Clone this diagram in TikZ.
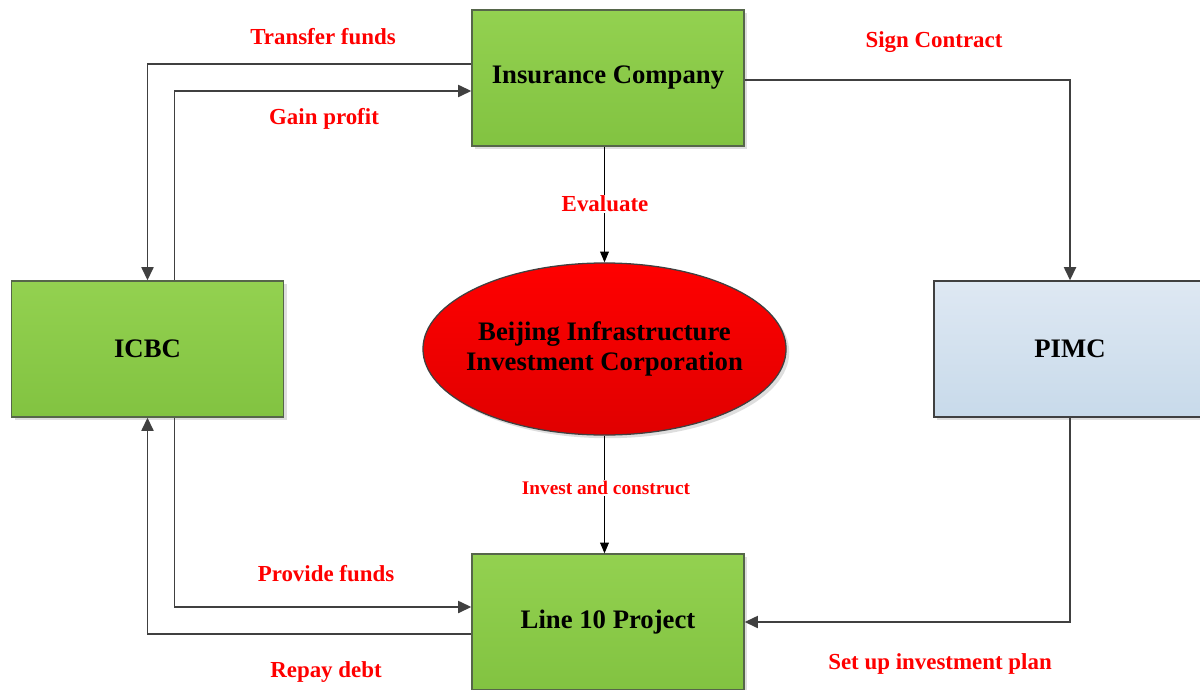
\documentclass[tikz,border=0pt]{standalone}
\usepackage{fontspec}
\setmainfont{Liberation Serif}
\usetikzlibrary{arrows.meta,shapes.geometric,shadows,calc}
\definecolor{green_top}{HTML}{93D150}
\definecolor{green_bot}{HTML}{82C341}
\definecolor{green_edge}{HTML}{56664A}
\definecolor{blue_top}{HTML}{DEE8F3}
\definecolor{blue_bot}{HTML}{C8DAEA}
\definecolor{red_bot}{HTML}{E00000}
\definecolor{flow_gray}{HTML}{404040}

\begin{document}
\begin{tikzpicture}[x=0.025cm,y=-0.025cm,
    boxshadow/.style={drop shadow={shadow xshift=0.08cm,shadow yshift=-0.08cm,fill=black!13,opacity=1}},
    greenbox/.style={draw=green_edge,line width=0.9pt,top color=green_top,bottom color=green_bot,
        minimum width=6.8cm,minimum height=3.4cm,font=\fontsize{19}{23}\selectfont\bfseries,boxshadow},
    bluebox/.style={greenbox,draw=flow_gray,top color=blue_top,bottom color=blue_bot},
    redoval/.style={ellipse,draw=flow_gray,line width=0.9pt,top color=red,bottom color=red_bot,
        inner xsep=-8pt,inner ysep=0pt,minimum width=9.075cm,minimum height=4.3cm,align=center,
        font=\fontsize{19}{21.5}\selectfont\bfseries,boxshadow},
    flow/.style={draw=flow_gray,line width=1.4pt,-{Triangle[length=0.33cm,width=0.3cm]}},
    thinflow/.style={draw=black,line width=0.8pt,-{Triangle[length=0.27cm,width=0.22cm]}},
    lbl/.style={text=red,font=\fontsize{16.3}{19}\selectfont\bfseries},
    smalllbl/.style={text=red,font=\fontsize{13.7}{16}\selectfont\bfseries}]
        \useasboundingbox (0,0) rectangle (1200,689);
        \clip (0,0) rectangle (1200,689);
        % Boxes
        \node[greenbox] (ins) at (608,78) {Insurance Company};
        \node[greenbox] (icbc) at (147.5,349) {ICBC};
        \node[bluebox] (pimc) at (1070,349) {PIMC};
        \node[greenbox] (l10) at (608,622) {Line 10 Project};
        \node[redoval] (bic) at (604.5,349) {Beijing Infrastructure\\Investment Corporation};
        % Connectors
        \draw[flow] ($(ins.west)+(0,-14)$) -| (icbc.north);
        \draw[flow] ($(icbc.north)+(27,0)$) |- ($(ins.west)+(0,13)$);
        \draw[flow] ($(ins.east)+(0,2)$) -| (pimc.north);
        \draw[thinflow] (ins.south -| bic.north) -- (bic.north);
        \draw[thinflow] (bic.south) -- (bic.south |- l10.north);
        \draw[flow] ($(icbc.south)+(27,0)$) |- ($(l10.west)+(0,-15)$);
        \draw[flow] ($(l10.west)+(0,12)$) -| (icbc.south);
        \draw[flow] (pimc.south) |- (l10.east);
        % Labels
        \node[lbl] (transfer) at (323,37) {Transfer funds};
        \node[lbl] (gain) at (324,119) {Gain profit};
        \node[lbl] (sign) at (934,42) {Sign Contract};
        \node[lbl,fill=white,inner sep=1pt] (evaluate) at (605,204) {Evaluate};
        \node[smalllbl,fill=white,inner sep=1pt] (invest) at (606,488) {Invest and construct};
        \node[lbl] (provide) at (326,574) {Provide funds};
        \node[lbl] (repay) at (326,672) {Repay debt};
        \node[lbl] (plan) at (940,664) {Set up investment plan};
\end{tikzpicture}
\end{document}
